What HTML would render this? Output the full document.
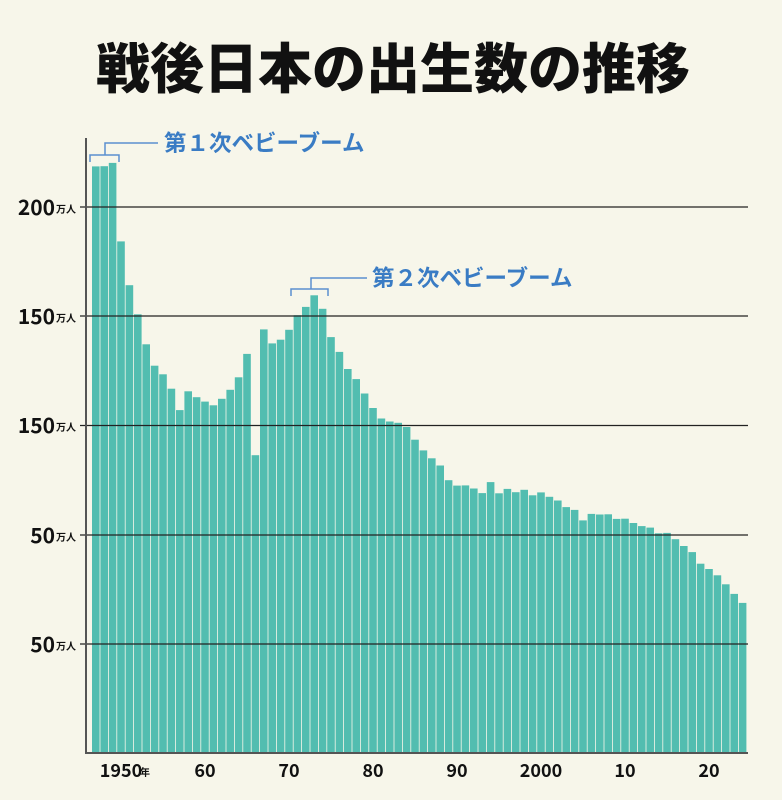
<!DOCTYPE html>
<html><head><meta charset="utf-8"><style>
body{margin:0;background:#f7f6ea;}
svg{display:block;font-family:"Liberation Sans","Noto Sans CJK JP",sans-serif;}
</style></head><body>
<svg id="c" width="782" height="800" viewBox="0 0 782 800">
<rect width="782" height="800" fill="#f7f6ea"/>
<text x="393" y="88" text-anchor="middle" font-size="54" font-weight="900" fill="#111" font-family="'Noto Sans CJK JP',sans-serif">戦後日本の出生数の推移</text>
<g id="bars"></g>
<g stroke="#222" stroke-width="1.3">
<line x1="80" y1="207" x2="748" y2="207"/>
<line x1="80" y1="316" x2="748" y2="316"/>
<line x1="80" y1="425.5" x2="748" y2="425.5"/>
<line x1="80" y1="535" x2="748" y2="535"/>
<line x1="80" y1="644" x2="748" y2="644"/>
</g>
<line x1="86" y1="138" x2="86" y2="754" stroke="#555" stroke-width="2"/>
<line x1="85" y1="753" x2="748" y2="753" stroke="#555" stroke-width="2"/>
<g font-weight="bold" fill="#111" font-size="21" font-family="'Noto Sans CJK JP',sans-serif" text-anchor="end">
<text x="55" y="215">200</text><text x="55" y="324">150</text><text x="55" y="433">150</text><text x="55" y="543">50</text><text x="55" y="652">50</text>
</g>
<g fill="#111" font-size="10" font-weight="bold" font-family="'Noto Sans CJK JP',sans-serif">
<text x="56" y="213">万人</text><text x="56" y="322">万人</text><text x="56" y="431">万人</text><text x="56" y="541">万人</text><text x="56" y="650">万人</text>
</g>
<g font-weight="bold" fill="#111" font-size="18" font-family="'Noto Sans CJK JP',sans-serif" text-anchor="middle">
<text x="121" y="777">1950</text><text x="205" y="777">60</text><text x="289" y="777">70</text><text x="373" y="777">80</text><text x="457" y="777">90</text><text x="541" y="777">2000</text><text x="625" y="777">10</text><text x="709" y="777">20</text>
</g>
<text x="140" y="776" font-size="10" font-weight="bold" fill="#111" font-family="'Noto Sans CJK JP',sans-serif">年</text>
<g stroke="#5b8fd0" stroke-width="1.5" fill="none">
<polyline points="90,162 90,155 119,155 119,162"/>
<polyline points="105,155 105,143 158,143"/>
<polyline points="291,296 291,289 328,289 328,296"/>
<polyline points="311,289 311,278 367,278"/>
</g>
<g fill="#3a7cc4" font-size="22.5" font-weight="bold" font-family="'Noto Sans CJK JP',sans-serif">
<text x="164" y="151">第１次ベビーブーム</text>
<text x="372" y="286">第２次ベビーブーム</text>
</g>
</svg>
<script>
var d=[268.1,268.2,269.7,233.8,213.8,200.5,186.8,177.0,173.1,166.5,156.7,165.3,162.6,160.6,158.9,161.9,166.0,171.7,182.4,136.1,193.6,187.2,188.9,193.4,200.1,203.9,209.2,203.0,190.1,183.3,175.5,170.9,164.3,157.7,152.9,151.5,150.9,149.0,143.2,138.3,134.7,131.4,124.7,122.2,122.3,120.9,118.8,123.8,118.7,120.7,119.2,120.3,117.8,119.1,117.1,115.4,112.4,111.1,106.3,109.3,109.0,109.1,107.0,107.1,105.1,103.7,103.0,100.4,100.6,97.7,94.6,91.8,86.5,84.1,81.2,77.1,72.7,68.6];
var s='';
for(var i=0;i<d.length;i++){var x=92+i*8.4,y=753-d[i]*2.188;
s+='<rect x="'+x.toFixed(1)+'" y="'+y.toFixed(1)+'" width="7.6" height="'+(753-y).toFixed(1)+'" fill="#52bdb0"/>';}
document.getElementById('bars').innerHTML=s;
</script>
</body></html>
